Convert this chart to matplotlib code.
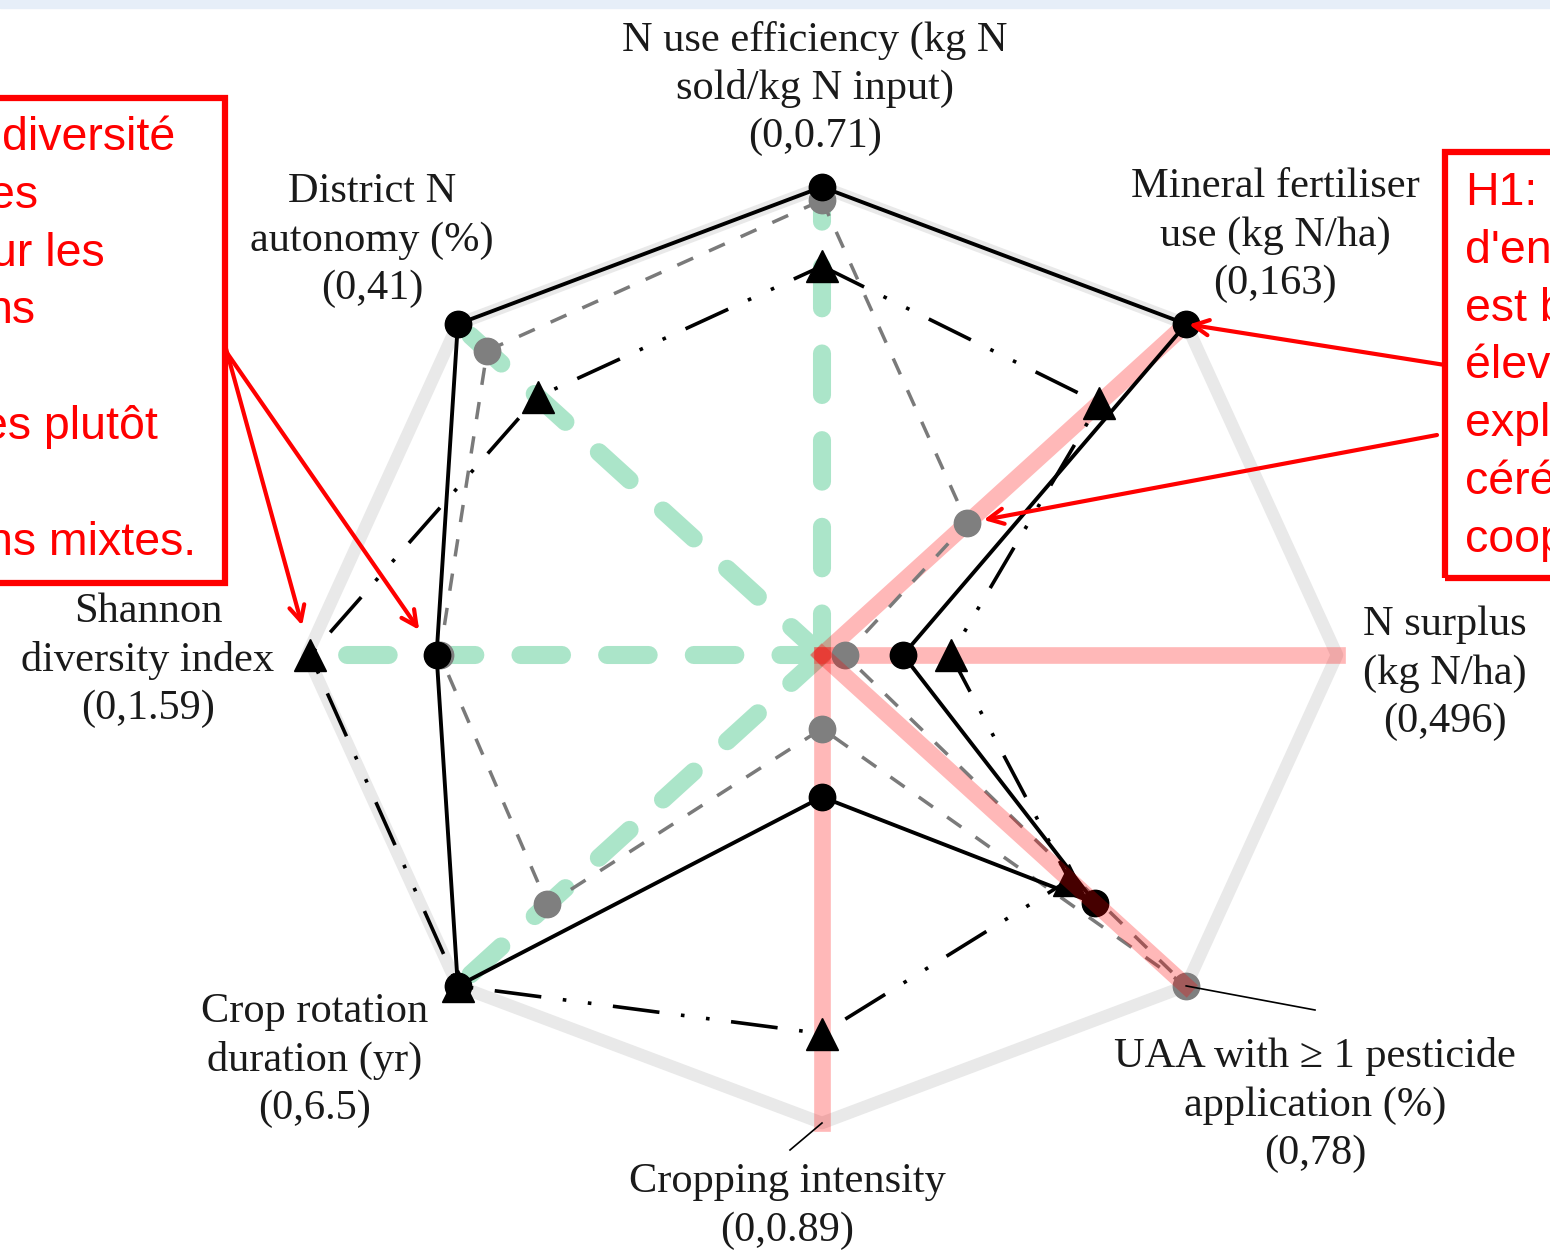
import numpy as np
import matplotlib.pyplot as plt
from matplotlib.patches import Rectangle

# axes of the radar, clockwise from the top
axis_lines = [
    ["N use efficiency (kg N", "sold/kg N input)"],
    ["Mineral fertiliser", "use (kg N/ha)"],
    ["N surplus", "(kg N/ha)"],
    ["UAA with \u2265 1 pesticide", "application (%)"],
    ["Cropping intensity"],
    ["Crop rotation", "duration (yr)"],
    ["Shannon", "diversity index"],
    ["District N", "autonomy (%)"],
]
axis_max = [0.71, 163, 496, 78, 0.89, 6.5, 1.59, 41]

# farm types (values in axis units)
solid_dots = [0.71, 163, 78, 58.5, 0.27, 6.5, 1.19, 41]
grey_dots = [0.69, 65, 22, 78, 0.14, 4.9, 1.18, 37.7]
triangles = [0.59, 124, 124, 53, 0.72, 6.5, 1.58, 32]

green_axes = [0, 7, 6, 5]
red_axes = [1, 2, 3, 4]

# comment boxes (cut by the slide edges)
left_note = ["diversit\u00e9", "es", "ur les", "ns", "es plut\u00f4t", "ns mixtes."]
left_note_row = [0, 1, 2, 3, 5, 7]
left_note_x = [2, -11, -9, -13, -18, -13]
right_note = ["H1:", "d'en", "est b", "\u00e9lev", "expl", "c\u00e9r\u00e9", "coop"]

W, H = 1550, 1256
CX, CY = 822, 655      # centre of the web, px
RX, RY = 515, 468      # radius of the outer ring, px

fig = plt.figure(figsize=(W / 100, H / 100), dpi=100)
ax = fig.add_axes([0, 0, 1, 1])
ax.set_xlim(-CX / RX, (W - CX) / RX)
ax.set_ylim(-(H - CY) / RY, CY / RY)
ax.axis('off')


def px(x, y):
    return (x - CX) / RX, (CY - y) / RY


n = len(axis_max)
angles = np.arange(n) * 2 * np.pi / n


def polar(vals):
    r = np.array(vals) / np.array(axis_max)
    return r * np.sin(angles), r * np.cos(angles)


# light band at the very top of the slide
fig.patches.append(Rectangle((0, 1 - 8 / H), 1, 8 / H, transform=fig.transFigure,
                             color='#e6eef8', zorder=0))

# outer ring
ox, oy = polar(axis_max)
ax.plot(np.append(ox, ox[0]), np.append(oy, oy[0]), color='#e9e9e9', lw=9,
        solid_joinstyle='round', zorder=1)

# highlighted axes
for i in green_axes:
    ax.plot([0, ox[i]], [0, oy[i]], color='#abe5c9', lw=13, linestyle=(0, (2.3, 2.5)),
            dash_capstyle='round', zorder=2)
for i in red_axes:
    z = 6 if i == 3 else 2
    ax.plot([0, ox[i]], [0, oy[i]], color='red', alpha=0.28, lw=12, zorder=z)

# series
x, y = polar(grey_dots)
ax.plot(np.append(x, x[0]), np.append(y, y[0]), color='#7a7a7a', lw=2.5,
        linestyle=(0, (5, 5)), zorder=3)
ax.plot(x, y, 'o', color='#7f7f7f', ms=19, zorder=3)

x, y = polar(triangles)
ax.plot(np.append(x, x[0]), np.append(y, y[0]), color='black', lw=2.6,
        linestyle=(0, (13, 6, 1, 6, 1, 6)), zorder=4)
ax.plot(x, y, '^', color='black', ms=23, zorder=4)

x, y = polar(solid_dots)
ax.plot(np.append(x, x[0]), np.append(y, y[0]), color='black', lw=2.8, zorder=5)
ax.plot(x, y, 'o', color='black', ms=19, zorder=5)

# axis labels
label_pos = [(815, 40), (1275, 187), (1445, 625), (1315, 1057),
             (787, 1182), (315, 1012), (148, 612), (372, 192)]
for lines, m, (lx, ly) in zip(axis_lines, axis_max, label_pos):
    for k, s in enumerate(lines + ['(0,%g)' % m]):
        tx, ty = px(lx, ly + 48.5 * k)
        ax.text(tx, ty, s, ha='center', va='center', fontsize=30.5,
                family='Liberation Serif', color='#1a1a1a')

# leader lines to the labels
ax.plot(*zip((ox[3], oy[3]), px(1315, 1010)), color='black', lw=1.2, zorder=6)
ax.plot(*zip((ox[4], oy[4]), px(790, 1150)), color='black', lw=1.2, zorder=6)

# red comment boxes
bx0, by0 = px(-10, 583)
bx1, by1 = px(225, 98)
ax.add_patch(Rectangle((bx0, by0), bx1 - bx0, by1 - by0, fill=False, ec='red', lw=4.5,
                       zorder=7))
bx0, by0 = px(1445, 578)
bx1, by1 = px(1570, 152)
ax.add_patch(Rectangle((bx0, by0), bx1 - bx0, by1 - by0, fill=False, ec='red', lw=4.5,
                       zorder=7))

for s, row, lx in zip(left_note, left_note_row, left_note_x):
    tx, ty = px(lx, 138 + 57.8 * row)
    ax.text(tx, ty, s, ha='left', va='center', fontsize=33.5, family='Liberation Sans',
            color='red', zorder=8)
for k, s in enumerate(right_note):
    tx, ty = px(1465, 193 + 57.8 * k)
    ax.text(tx, ty, s, ha='left', va='center', fontsize=33.5, family='Liberation Sans',
            color='red', zorder=8)

# arrows
tx, ty = polar(triangles)
sx, sy = polar(solid_dots)
gx, gy = polar(grey_dots)
arrow = dict(arrowstyle='->,head_length=1.1,head_width=0.55', color='red', lw=3)
ax.annotate('', xy=(tx[6], ty[6]), xytext=px(225, 345),
            arrowprops=dict(arrow, shrinkA=0, shrinkB=22), zorder=8)
ax.annotate('', xy=(sx[6], sy[6]), xytext=px(225, 350),
            arrowprops=dict(arrow, shrinkA=0, shrinkB=22), zorder=8)
ax.annotate('', xy=(sx[1], sy[1]), xytext=px(1445, 365),
            arrowprops=dict(arrow, shrinkA=0, shrinkB=2), zorder=8)
ax.annotate('', xy=(gx[1], gy[1]), xytext=px(1437, 435),
            arrowprops=dict(arrow, shrinkA=0, shrinkB=12), zorder=8)

fig.savefig('out.png', dpi=100)
